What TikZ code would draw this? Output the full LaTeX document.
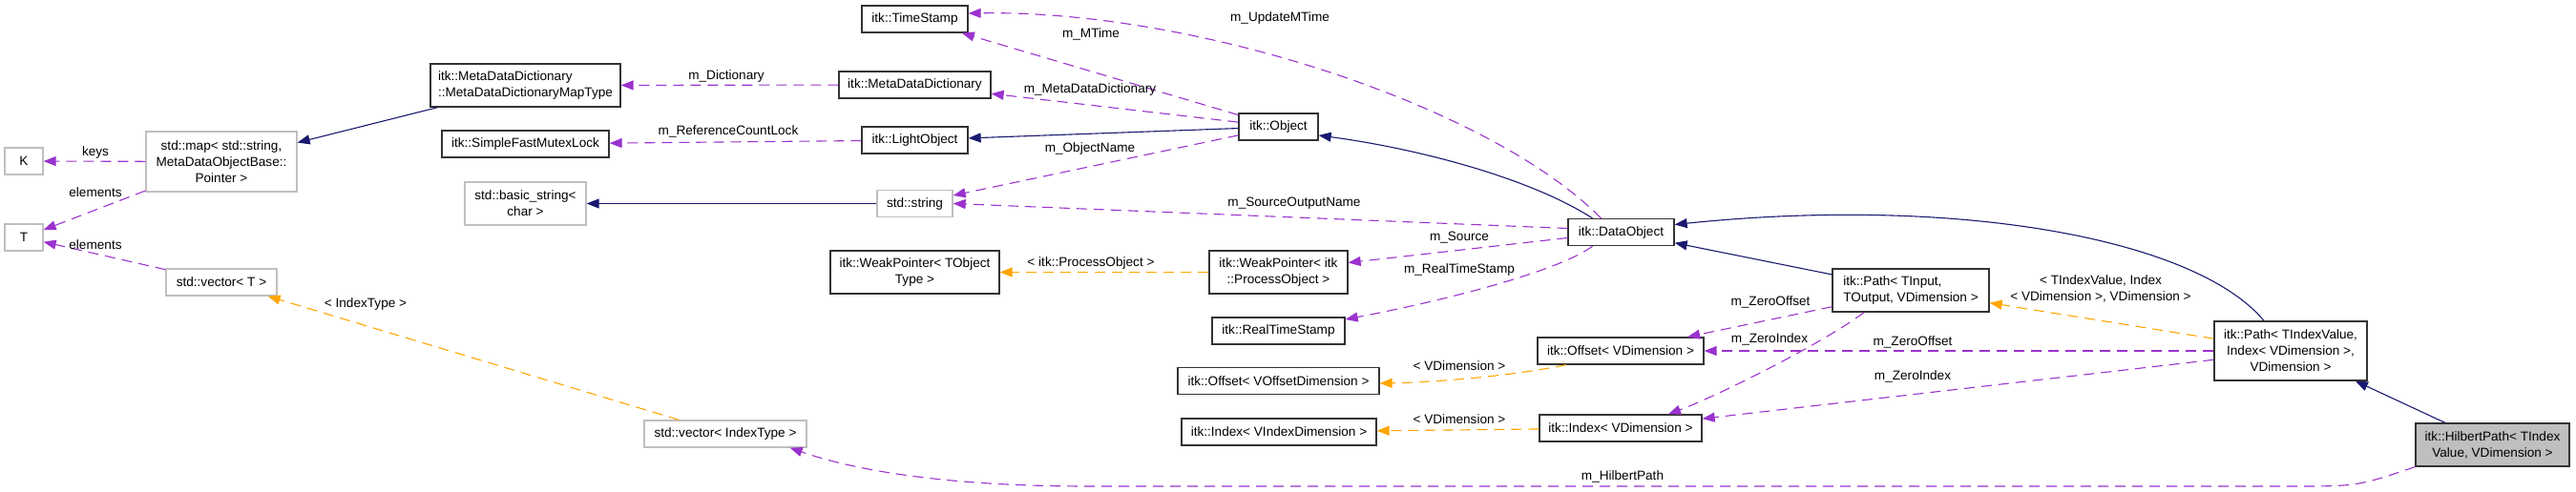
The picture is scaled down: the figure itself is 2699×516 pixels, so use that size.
\documentclass[tikz,border=0pt]{standalone}
\usepackage{fontspec}
\setmainfont{Liberation Sans}
\usepackage{tikz}
\usetikzlibrary{arrows.meta, calc}

\definecolor{edgeNavy}{HTML}{191970}
\definecolor{edgePurple}{HTML}{9A32CD}
\definecolor{edgeOrange}{HTML}{FFA500}
\definecolor{boxGray}{HTML}{BFBFBF}

\begin{document}
\begin{tikzpicture}[x=1pt, y=-1pt,
  cls/.style={rectangle, draw=black!80, line width=1.3pt, minimum height=28pt, inner sep=2pt, align=center, font=\fontsize{13.6}{17}\selectfont},
  ext/.style={cls, draw=boxGray},
  lbl/.style={inner sep=0pt, font=\fontsize{13.6}{17}\selectfont},
  inh/.style={-{Triangle[length=13pt, width=10pt]}, draw=edgeNavy, line width=1.1pt},
  mem/.style={-{Triangle[length=13pt, width=10pt]}, draw=edgePurple, line width=1.1pt, dash pattern=on 11pt off 7pt},
  tpl/.style={-{Triangle[length=13pt, width=10pt]}, draw=edgeOrange, line width=1.1pt, dash pattern=on 11pt off 7pt},
]
\useasboundingbox (0,0) rectangle (2699,516);

% Classes
\node[ext, minimum width=40pt] (K) at (25,169) {K};
\node[ext, minimum width=40pt] (T) at (25,249) {T};
\node[ext, minimum width=158pt, minimum height=63pt] (stdMap) at (232,169.5) {std::map< std::string,\\MetaDataObjectBase::\\Pointer >};
\node[ext, minimum width=116pt] (vecT) at (232,296) {std::vector< T >};
\node[cls, minimum width=199pt, minimum height=45pt, align=left] (mapType) at (550.5,89.5) {itk::MetaDataDictionary\\::MetaDataDictionaryMapType};
\node[cls, minimum width=175pt] (mutexLock) at (550.5,151) {itk::SimpleFastMutexLock};
\node[ext, minimum width=127pt, minimum height=45pt] (basicStr) at (550.5,213.5) {std::basic\_string<\\char >};
\node[ext, minimum width=170pt] (vecIdx) at (760,455) {std::vector< IndexType >};
\node[cls, minimum width=111pt] (timeStamp) at (958.5,20) {itk::TimeStamp};
\node[cls, minimum width=159pt] (metaDict) at (958.5,89) {itk::MetaDataDictionary};
\node[cls, minimum width=111pt] (lightObj) at (958.5,147) {itk::LightObject};
\node[ext, minimum width=79pt] (stdStr) at (958.5,213.5) {std::string};
\node[cls, minimum width=177pt, minimum height=45pt] (weakT) at (958.5,285.5) {itk::WeakPointer< TObject\\Type >};
\node[cls, minimum width=83pt] (object) at (1339.5,133) {itk::Object};
\node[cls, minimum width=145pt, minimum height=45pt] (weakPO) at (1339.5,285.5) {itk::WeakPointer< itk\\::ProcessObject >};
\node[cls, minimum width=139pt] (realTS) at (1339.5,347) {itk::RealTimeStamp};
\node[cls, minimum width=211pt] (offsetVO) at (1339.5,399.5) {itk::Offset< VOffsetDimension >};
\node[cls, minimum width=204pt] (indexVI) at (1340,453) {itk::Index< VIndexDimension >};
\node[cls, minimum width=111pt] (dataObj) at (1698.5,243.5) {itk::DataObject};
\node[cls, minimum width=174pt] (offsetVD) at (1698,368) {itk::Offset< VDimension >};
\node[cls, minimum width=170pt] (indexVD) at (1698,449) {itk::Index< VDimension >};
\node[cls, minimum width=164pt, minimum height=45pt, align=left] (pathIn) at (2002,304.5) {itk::Path< TInput,\\ TOutput, VDimension >};
\node[cls, minimum width=160pt, minimum height=62pt] (pathIdx) at (2400,368) {itk::Path< TIndexValue,\\Index< VDimension >,\\VDimension >};
\node[cls, fill=boxGray, minimum width=161pt, minimum height=45pt] (hilbert) at (2611.5,466.5) {itk::HilbertPath< TIndex\\Value, VDimension >};

% Edges
\draw[inh] (mapType) -- (stdMap);
\draw[mem] (metaDict) -- (mapType);
\draw[mem] (lightObj) -- (mutexLock);
\draw[inh] (stdStr) -- (basicStr);
\draw[mem] (stdMap) -- (K);
\draw[mem] (stdMap) -- (T);
\draw[mem] (vecT) -- (T);
\draw[tpl] (vecIdx) -- (vecT);
\draw[mem] (object) -- (timeStamp);
\draw[mem] ($(dataObj.north)+(-21,0)$) .. controls (1560,110) and (1250,10) .. ($(timeStamp.east)+(0,-6)$);
\draw[mem] (object) -- (metaDict);
\draw[inh] (object) -- (lightObj);
\draw[mem] (object) -- (stdStr);
\draw[inh] ($(dataObj.north)+(-30,0)$) .. controls (1600,185) and (1480,155) .. ($(object.east)+(0,9)$);
\draw[mem] ($(dataObj.west)+(0,-4)$) -- (stdStr.east);
\draw[mem] ($(dataObj.west)+(0,6)$) -- ($(weakPO.east)+(0,-10)$);
\draw[mem] ($(dataObj.south)+(-30,0)$) .. controls (1640,280) and (1540,310) .. ($(realTS.east)+(0,-12)$);
\draw[tpl] (weakPO) -- (weakT);
\draw[inh] (pathIn) -- (dataObj);
\draw[inh] ($(pathIdx.north)+(-28,0)$) .. controls (2300,250) and (2050,205) .. ($(dataObj.east)+(0,-8)$);
\draw[mem] (pathIn) -- (offsetVD);
\draw[mem] ($(pathIn.south)+(-49,0)$) .. controls (1910,360) and (1800,415) .. ($(indexVD.north)+(50,0)$);
\draw[mem] (pathIdx) -- (offsetVD);
\draw[mem] (pathIdx) -- (indexVD);
\draw[tpl] (pathIdx) -- (pathIn);
\draw[tpl] ($(offsetVD.south)+(-57,0)$) .. controls (1580,395) and (1500,401) .. ($(offsetVO.east)+(0,2.5)$);
\draw[tpl] (indexVD) -- (indexVI);
\draw[inh] (hilbert) -- (pathIdx);
\draw[mem] (hilbert.south west) .. controls (2470,510) .. (2400,510) -- (1140,510) .. controls (1000,510) and (900,495) .. ($(vecIdx.south east)+(-18,0)$);

% Labels
\node[lbl] (lKeys) at (100,160) {keys};
\node[lbl] (lElemMap) at (100,202) {elements};
\node[lbl] (lElemVec) at (100,257) {elements};
\node[lbl] (lIndexType) at (383,319) {< IndexType >};
\node[lbl] (lDict) at (761,80) {m\_Dictionary};
\node[lbl] (lRefLock) at (763,138) {m\_ReferenceCountLock};
\node[lbl] (lMTime) at (1143,36) {m\_MTime};
\node[lbl] (lUpdate) at (1341,19) {m\_UpdateMTime};
\node[lbl] (lMetaDict) at (1142,94) {m\_MetaDataDictionary};
\node[lbl] (lObjName) at (1142,156) {m\_ObjectName};
\node[lbl] (lSrcOut) at (1356,213) {m\_SourceOutputName};
\node[lbl] (lProcObj) at (1143,276) {< itk::ProcessObject >};
\node[lbl] (lSource) at (1529,249) {m\_Source};
\node[lbl] (lRealTS) at (1529,283) {m\_RealTimeStamp};
\node[lbl] (lOffIn) at (1855,317) {m\_ZeroOffset};
\node[lbl] (lIdxIn) at (1854,356) {m\_ZeroIndex};
\node[lbl] (lOffIdx) at (2004,359) {m\_ZeroOffset};
\node[lbl] (lIdxIdx) at (2004,395) {m\_ZeroIndex};
\node[lbl] (lOffDim) at (1529,384) {< VDimension >};
\node[lbl] (lIdxDim) at (1529,440) {< VDimension >};
\node[lbl] (lHilbert) at (1700,500) {m\_HilbertPath};
\node[lbl, align=center] (lPathArgs) at (2201,303) {< TIndexValue, Index\\< VDimension >, VDimension >};
\end{tikzpicture}
\end{document}
